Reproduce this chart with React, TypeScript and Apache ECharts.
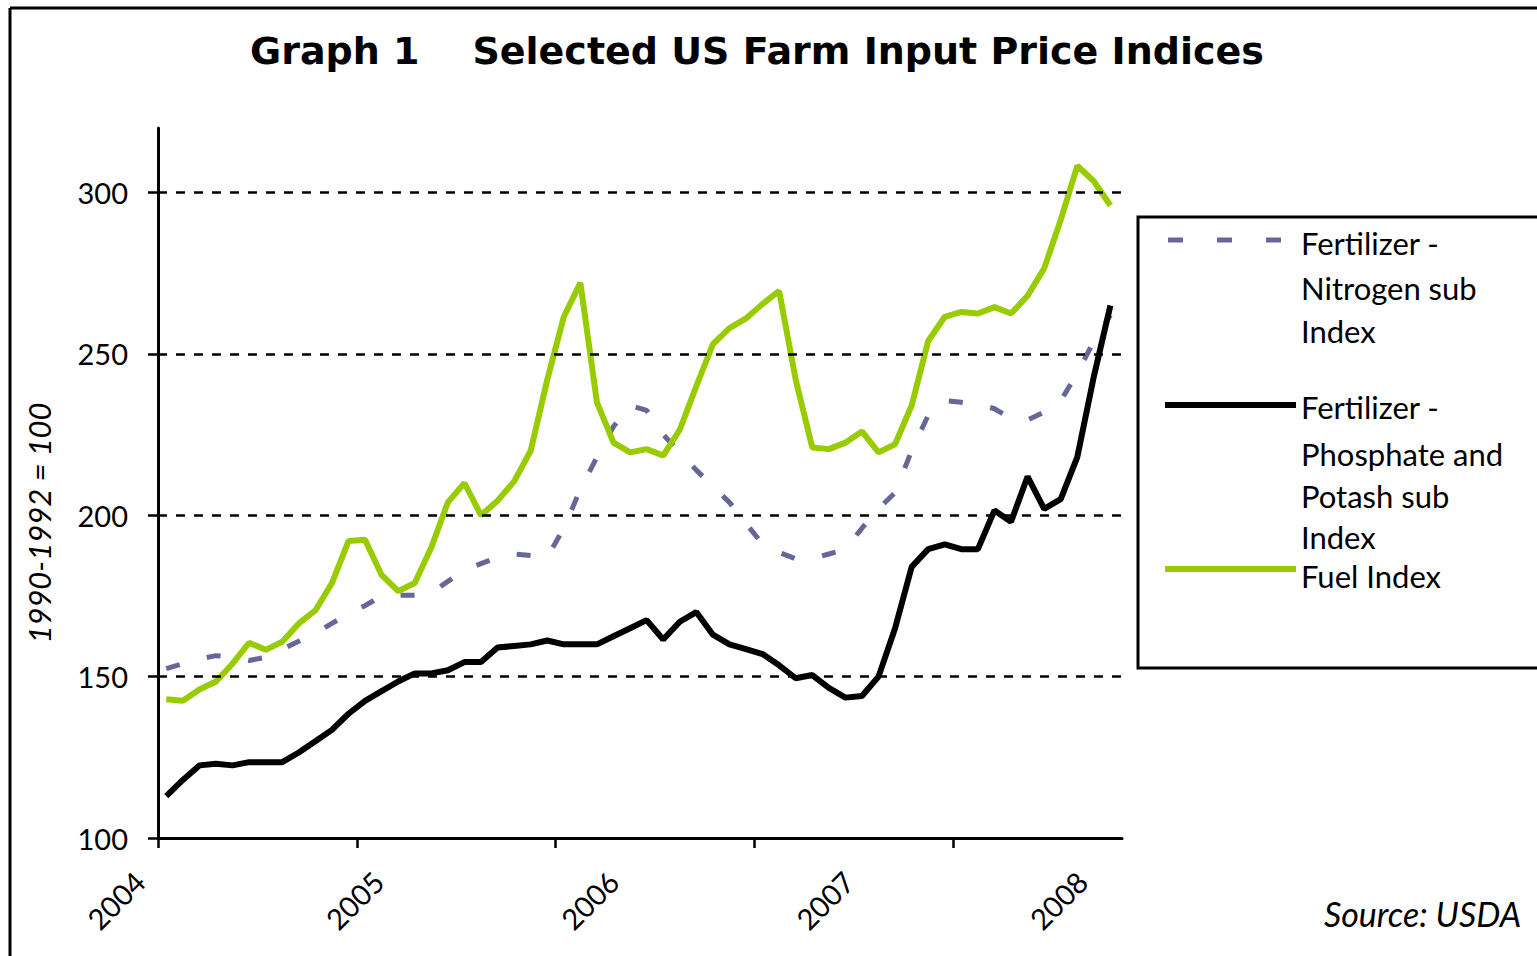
import React, { useEffect, useRef } from 'react';
import * as echarts from 'echarts';

// ---- data (monthly, Jan 2004 .. Oct 2008) ----
const years = ['2004', '2005', '2006', '2007', '2008'];
const yearTickValues = [0, 12, 24, 36, 48]; // months since Jan 2004
const yTicks = [100, 150, 200, 250, 300];

const seriesNames = [
  'Fertilizer - Nitrogen sub Index',
  'Fertilizer - Phosphate and Potash sub Index',
  'Fuel Index',
];

const legendLines = [
  ['Fertilizer -', 'Nitrogen sub', 'Index'],
  ['Fertilizer -', 'Phosphate and', 'Potash sub', 'Index'],
  ['Fuel Index'],
];

const nitrogen = [
  152.5, 154, 155.5, 156.5, 156, 155, 156, 158.5, 161, 163.5, 166.5, 169.5,
  172, 175, 175.2, 175.2, 176, 179.5, 183, 185, 187, 188, 187.5, 187,
  196, 208, 218, 227.5, 234, 232.5, 225, 219.5, 214, 209, 204, 197.5,
  191, 188.5, 186.5, 186.5, 188, 189.5, 196, 202, 207, 220, 231, 235.5,
  235, 234.5, 233, 230, 229.5, 232, 235.5, 244, 254, 262,
];

const phosphatePotash = [
  113, 118, 122.5, 123, 122.5, 123.5, 123.5, 123.5, 126.5, 130, 133.5, 138.5,
  142.5, 145.5, 148.5, 151, 151, 152, 154.5, 154.5, 159, 159.5, 160, 161.2,
  160, 160, 160, 162.5, 165, 167.5, 161.5, 167, 170, 163, 160, 158.5,
  157, 153.5, 149.5, 150.5, 146.5, 143.5, 144, 150, 165, 184, 189.5, 191,
  189.5, 189.5, 201.5, 198, 212, 202, 205, 218, 243, 265,
];

const fuel = [
  143, 142.5, 146, 148.5, 154, 160.5, 158.3, 160.8, 166.5, 170.5, 179, 192,
  192.4, 181.5, 176.5, 179, 190, 204, 210, 200, 204.5, 210.5, 220, 242,
  261.5, 272, 235, 222.5, 219.5, 220.5, 218.5, 226.5, 240, 253, 258, 261,
  265.5, 269.5, 242, 221, 220.5, 222.5, 226, 219.5, 222, 234, 254, 261.5,
  263, 262.5, 264.5, 262.5, 268, 276.5, 291.5, 308.3, 303.5, 296,
];

const colors = { nitrogen: '#666699', phos: '#000000', fuel: '#99CC00' };
const FONT = 'Lato, "Open Sans", sans-serif';
const TITLE_FONT = '"DejaVu Sans", Lato, sans-serif';

const toPoints = (vals: number[]) => vals.map((v, i) => [i + 0.5, v]);

export default function App() {
  const ref = useRef<HTMLDivElement>(null);

  useEffect(() => {
    if (!ref.current) return;
    const chart = echarts.init(ref.current, null, { renderer: 'svg' });

    // where the reference places its (evenly spread) year labels along the axis
    const yearLabelAnchors = [0, 14.4, 28.6, 42.8, 56.9];

    const legendY = [
      [243, 288, 331],
      [407, 454, 496, 537],
      [576],
    ];
    const legendTexts: any[] = [];
    legendLines.forEach((lines, si) => {
      lines.forEach((t, li) => {
        legendTexts.push({
          type: 'text',
          x: 1301,
          y: legendY[si][li],
          style: {
            text: t,
            fontFamily: FONT,
            fontSize: 31,
            lineHeight: 30,
            fill: '#000',
            align: 'left',
            verticalAlign: 'middle',
          },
        });
      });
    });

    const option: any = {
      animation: false,
      backgroundColor: '#ffffff',
      title: {
        text: 'Graph 1    Selected US Farm Input Price Indices',
        left: 250,
        top: 32,
        padding: 0,
        textStyle: { fontFamily: TITLE_FONT, fontWeight: 'bold', fontSize: 38, color: '#000' },
      },
      grid: { left: 158, right: 415, top: 128, bottom: 118, containLabel: false, outerBoundsMode: 'none' },
      xAxis: {
        type: 'value',
        min: 0,
        max: 58.2,
        axisLine: { show: true, onZero: false, lineStyle: { color: '#000', width: 3 } },
        axisTick: { show: true, customValues: yearTickValues, length: 10, lineStyle: { color: '#000', width: 2.5 } },
        axisLabel: {
          show: true,
          customValues: yearLabelAnchors,
          formatter: (v: number) => {
            let best = 0;
            yearLabelAnchors.forEach((a, i) => {
              if (Math.abs(a - v) < Math.abs(yearLabelAnchors[best] - v)) best = i;
            });
            return years[best];
          },
          rotate: 45,
          margin: 20,
          padding: [0, 26, 0, 0],
          fontFamily: FONT,
          fontSize: 29,
          color: '#000',
        },
        splitLine: { show: false },
      },
      yAxis: {
        type: 'value',
        min: 100,
        max: 320,
        interval: 50,
        axisLine: { show: true, lineStyle: { color: '#000', width: 3 } },
        axisTick: { show: true, customValues: yTicks, length: 10, lineStyle: { color: '#000', width: 2.5 } },
        axisLabel: {
          show: true,
          customValues: yTicks,
          margin: 30,
          fontFamily: FONT,
          fontSize: 29,
          color: '#000',
        },
        splitLine: { show: false },
      },
      series: [
        {
          name: seriesNames[0],
          type: 'line',
          data: toPoints(nitrogen),
          symbol: 'none',
          lineStyle: { color: colors.nitrogen, width: 5, type: [14, 28], cap: 'butt' },
          z: 2,
          markLine: {
            silent: true,
            symbol: ['none', 'none'],
            label: { show: false },
            lineStyle: { color: '#000', width: 2.5, type: [9, 9] },
            data: yTicks.filter((v) => v > 100).map((v) => ({ yAxis: v })),
          },
        },
        {
          name: seriesNames[1],
          type: 'line',
          data: toPoints(phosphatePotash),
          symbol: 'none',
          lineStyle: { color: colors.phos, width: 6 },
          z: 3,
        },
        {
          name: seriesNames[2],
          type: 'line',
          data: toPoints(fuel),
          symbol: 'none',
          lineStyle: { color: colors.fuel, width: 6 },
          z: 4,
        },
      ],
      graphic: [
        // frame
        { type: 'line', shape: { x1: 10, y1: 8, x2: 10, y2: 956 }, style: { stroke: '#000', lineWidth: 3 } },
        { type: 'line', shape: { x1: 10, y1: 8, x2: 1537, y2: 8 }, style: { stroke: '#000', lineWidth: 3 } },
        // y axis name
        {
          type: 'text',
          x: 39,
          y: 523,
          rotation: Math.PI / 2,
          style: {
            text: '1990-1992 = 100',
            fontFamily: FONT,
            fontStyle: 'italic',
            fontSize: 31,
            fill: '#000',
            align: 'center',
            verticalAlign: 'middle',
          },
        },
        // source
        {
          type: 'text',
          x: 1324,
          y: 913,
          style: {
            text: 'Source: USDA',
            fontFamily: FONT,
            fontStyle: 'italic',
            fontSize: 34,
            fill: '#000',
            align: 'left',
            verticalAlign: 'middle',
          },
        },
        // legend box
        {
          type: 'rect',
          shape: { x: 1138, y: 217, width: 420, height: 451 },
          style: { fill: '#fff', stroke: '#000', lineWidth: 3 },
        },
        {
          type: 'line',
          shape: { x1: 1168, y1: 240, x2: 1282, y2: 240 },
          style: { stroke: colors.nitrogen, lineWidth: 5, lineDash: [15, 34] },
        },
        {
          type: 'line',
          shape: { x1: 1165, y1: 405, x2: 1296, y2: 405 },
          style: { stroke: colors.phos, lineWidth: 6 },
        },
        {
          type: 'line',
          shape: { x1: 1165, y1: 569, x2: 1296, y2: 569 },
          style: { stroke: colors.fuel, lineWidth: 6 },
        },
        ...legendTexts,
      ],
    };

    chart.setOption(option);
    return () => chart.dispose();
  }, []);

  return (
    <div
      ref={ref}
      style={{ position: 'fixed', left: 0, top: 0, width: 1537, height: 956, background: '#fff' }}
    />
  );
}
